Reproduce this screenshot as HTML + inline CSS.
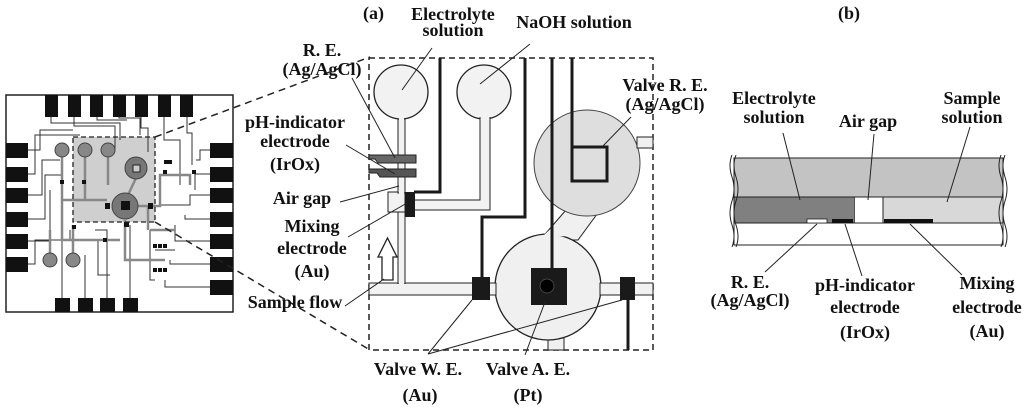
<!DOCTYPE html>
<html><head><style>body{margin:0;background:#fff}svg{display:block}text{font-family:"Liberation Serif",serif;font-weight:bold;font-size:18px;fill:#111}</style></head><body>
<svg width="1024" height="409" viewBox="0 0 1024 409" xmlns="http://www.w3.org/2000/svg">
<!-- Chip -->
<rect x="6" y="95" width="227" height="217" fill="#fff" stroke="#222" stroke-width="1.5"/>
<g fill="#111">
<rect x="45" y="95" width="13" height="22"/><rect x="68" y="95" width="13" height="22"/><rect x="90" y="95" width="13" height="22"/><rect x="113" y="95" width="13" height="22"/><rect x="135" y="95" width="13" height="22"/><rect x="158" y="95" width="13" height="22"/><rect x="180" y="95" width="13" height="22"/>
<rect x="6" y="143" width="22" height="15"/><rect x="6" y="167" width="22" height="15"/><rect x="6" y="188" width="22" height="15"/><rect x="6" y="212" width="22" height="15"/><rect x="6" y="234" width="22" height="15"/><rect x="6" y="257" width="22" height="15"/>
<rect x="210" y="143" width="23" height="15"/><rect x="210" y="167" width="23" height="15"/><rect x="210" y="188" width="23" height="15"/><rect x="210" y="212" width="23" height="15"/><rect x="210" y="234" width="23" height="15"/><rect x="210" y="257" width="23" height="15"/><rect x="210" y="280" width="23" height="15"/>
<rect x="55" y="298" width="15" height="14"/><rect x="78" y="298" width="15" height="14"/><rect x="100" y="298" width="15" height="14"/><rect x="123" y="298" width="15" height="14"/>
</g>
<rect x="73" y="137" width="82" height="85" fill="#cfcfcf"/>
<g fill="none" stroke="#333" stroke-width="1">
<path d="M51 117V123H120V140M74 117V126H115V150M97 117V120H127M119 117V118H140V135M141 117V128H148V152M164 117V140H180V185M187 117V133H192V165M28 150H40V130H73M28 174H35V135H80M28 195H42V160H60M28 219H45V175H62M28 241H50V190M28 264H35V240H70V230M210 150H200V160H196M210 174H195V190M210 195H190V205H160M210 219H185V215M210 241H175V225M210 264H170V260M210 287H165V280M62 298V240M85 298V255M107 298V230H95M130 298V225M150 230V280H155M155 250H175M98 240V275H110"/>
</g>
<g fill="none" stroke="#888" stroke-width="2.5">
<path d="M62 157V200H107M85 157V200M108 157V185M62 200V240H120M50 253V230M73 253V225M125 206H148V230M148 206H160V175H190V185M136 178L128 195M125 220V260H165M150 230H175"/>
</g>
<circle cx="62" cy="150" r="7" fill="#888" stroke="#444"/><circle cx="85" cy="150" r="7" fill="#888" stroke="#444"/><circle cx="108" cy="150" r="7" fill="#888" stroke="#444"/>
<circle cx="50" cy="260" r="7" fill="#888" stroke="#444"/><circle cx="73" cy="260" r="7" fill="#888" stroke="#444"/>
<circle cx="136" cy="168" r="11" fill="#777" stroke="#444"/><circle cx="125" cy="206" r="13" fill="#777" stroke="#444"/>
<rect x="133" y="165" width="7" height="7" fill="#ccc" stroke="#222"/>
<rect x="121" y="201" width="9" height="9" fill="#111"/>
<g fill="#111"><rect x="105" y="203" width="5" height="6"/><rect x="148" y="203" width="5" height="6"/><rect x="124" y="222" width="5" height="5"/><rect x="164" y="160" width="8" height="4"/><rect x="163" y="170" width="4" height="4"/><rect x="192" y="170" width="4" height="4"/><rect x="153" y="244" width="4" height="4"/><rect x="158" y="244" width="4" height="4"/><rect x="163" y="244" width="4" height="4"/><rect x="153" y="268" width="4" height="4"/><rect x="158" y="268" width="4" height="4"/><rect x="163" y="268" width="4" height="4"/><rect x="103" y="238" width="4" height="4"/><rect x="60" y="180" width="4" height="4"/><rect x="82" y="180" width="4" height="4"/><rect x="72" y="225" width="4" height="4"/></g>
<rect x="73" y="137" width="82" height="85" fill="none" stroke="#222" stroke-width="1.3" stroke-dasharray="5,3"/>
<line x1="155" y1="137" x2="370" y2="57" stroke="#222" stroke-width="1.5" stroke-dasharray="7,5"/>
<line x1="155" y1="222" x2="370" y2="350" stroke="#222" stroke-width="1.5" stroke-dasharray="7,5"/>

<!-- Panel a -->
<rect x="369" y="58" width="284" height="292" fill="none" stroke="#222" stroke-width="1.5" stroke-dasharray="6,4"/>
<path d="M540 240 L566 210 L600 210 L578 240 Z" fill="#f0f0f0" stroke="#222"/>
<circle cx="587" cy="163" r="53" fill="#dedede" stroke="#444" stroke-width="1"/>
<rect x="637" y="137" width="16" height="11" fill="#f0f0f0" stroke="#222"/>
<rect x="548" y="332" width="16" height="18" fill="#f0f0f0" stroke="#222"/>
<circle cx="548" cy="287" r="53" fill="#f0f0f0" stroke="#222" stroke-width="1.3"/>
<path d="M544 235 L560 220 L588 222 L576 237 Z" fill="#f0f0f0"/>
<rect x="369" y="283" width="127" height="12" fill="#f2f2f2" stroke="#222"/>
<rect x="600" y="283" width="53" height="12" fill="#f2f2f2" stroke="#222"/>
<rect x="398" y="210" width="7" height="74" fill="#f2f2f2" stroke="#222"/>
<rect x="370" y="284" width="125" height="10" fill="#f2f2f2"/>
<rect x="399" y="209" width="5" height="80" fill="#f2f2f2"/>
<rect x="388" y="192" width="17" height="20" fill="#f2f2f2" stroke="#222"/>
<rect x="398" y="117" width="7" height="76" fill="#f2f2f2" stroke="#222"/>
<circle cx="401" cy="92" r="27" fill="#f2f2f2" stroke="#222" stroke-width="1.3"/>
<rect x="399" y="115" width="5" height="80" fill="#f2f2f2"/>
<circle cx="484" cy="92" r="27" fill="#f2f2f2" stroke="#222" stroke-width="1.3"/>
<path d="M480 117V200H412V210H490V117" fill="#f2f2f2" stroke="#222"/>
<rect x="481" y="115" width="8" height="86" fill="#f2f2f2"/>
<path d="M369 155H416V163H378L375 159H369Z" fill="#666" stroke="#222"/>
<path d="M369 169H416V177H380L377 173H369Z" fill="#555" stroke="#222"/>
<g fill="none" stroke="#1a1a1a" stroke-width="3">
<path d="M440 58V192H414"/><path d="M525 58V217H482V277"/><path d="M552 58V270"/><path d="M572 58V181H607V147H572"/><path d="M628 300V350"/>
</g>
<rect x="405" y="192" width="10" height="25" fill="#1a1a1a"/>
<rect x="472" y="277" width="18" height="23" fill="#1a1a1a"/>
<rect x="620" y="277" width="15" height="23" fill="#1a1a1a"/>
<rect x="531" y="268" width="36" height="37" fill="#1a1a1a"/>
<circle cx="547" cy="286" r="7" fill="#000" stroke="#444"/>
<path d="M382 280V257H378L387.5 238L397 257H393V280Z" fill="#fff" stroke="#222" stroke-width="1.3"/>
<g stroke="#222" stroke-width="1" fill="none">
<path d="M402 90L432 48"/><path d="M480 84L530 44"/><path d="M352 78L395 158"/><path d="M346 145L395 174"/><path d="M340 202L399 186"/><path d="M348 237L407 203"/><path d="M345 306L384 279"/><path d="M602 147L631 117"/><path d="M428 354L472 300"/><path d="M428 354L622 300"/><path d="M525 355L545 302"/>
</g>
<text x="363" y="19" font-size="16">(a)</text>
<text x="453" y="20" text-anchor="middle">Electrolyte</text><text x="453" y="36" text-anchor="middle">solution</text>
<text x="574" y="28" text-anchor="middle">NaOH solution</text>
<text x="322" y="56" text-anchor="middle">R. E.</text><text x="322" y="75" text-anchor="middle">(Ag/AgCl)</text>
<text x="295" y="128" text-anchor="middle">pH-indicator</text><text x="295" y="147" text-anchor="middle">electrode</text><text x="295" y="170" text-anchor="middle">(IrOx)</text>
<text x="302" y="204" text-anchor="middle">Air gap</text>
<text x="312" y="232" text-anchor="middle">Mixing</text><text x="312" y="254" text-anchor="middle">electrode</text><text x="312" y="277" text-anchor="middle">(Au)</text>
<text x="295" y="308" text-anchor="middle">Sample flow</text>
<text x="665" y="91" text-anchor="middle">Valve R. E.</text><text x="665" y="110" text-anchor="middle">(Ag/AgCl)</text>
<text x="418" y="375" text-anchor="middle">Valve W. E.</text><text x="420" y="401" text-anchor="middle">(Au)</text>
<text x="528" y="375" text-anchor="middle">Valve A. E.</text><text x="528" y="401" text-anchor="middle">(Pt)</text>

<!-- Panel b -->
<rect x="734" y="158" width="269" height="39" fill="#c3c3c3" stroke="#222"/>
<rect x="734" y="197" width="121" height="26" fill="#808080" stroke="#222"/>
<rect x="855" y="197" width="28" height="26" fill="#fff"/>
<rect x="883" y="197" width="120" height="26" fill="#d8d8d8" stroke="#222"/>
<rect x="734" y="223" width="269" height="22" fill="#fff" stroke="#222"/>
<line x1="734" y1="197" x2="1003" y2="197" stroke="#222"/>
<rect x="807" y="219" width="20" height="4" fill="#fff" stroke="#222" stroke-width="0.8"/>
<rect x="832" y="219" width="21" height="4" fill="#111"/>
<rect x="884" y="219" width="49" height="4" fill="#111"/>
<g stroke="#222" stroke-width="1" fill="none">
<path d="M732 155 q-4 10 0 22 q4 12 0 24 q-4 12 0 24 q4 12 0 22"/><path d="M736 155 q-4 10 0 22 q4 12 0 24 q-4 12 0 24 q4 12 0 22"/>
<path d="M1001 155 q-4 10 0 22 q4 12 0 24 q-4 12 0 24 q4 12 0 22"/><path d="M1005 155 q-4 10 0 22 q4 12 0 24 q-4 12 0 24 q4 12 0 22"/>
<path d="M800 200L783 133"/><path d="M868 200L874 134"/><path d="M947 202L970 127"/>
<path d="M817 224L765 272"/><path d="M845 224L862 276"/><path d="M910 224L962 275"/>
</g>
<text x="838" y="19" font-size="16">(b)</text>
<text x="774" y="104" text-anchor="middle">Electrolyte</text><text x="774" y="123" text-anchor="middle">solution</text>
<text x="868" y="127" text-anchor="middle">Air gap</text>
<text x="972" y="104" text-anchor="middle">Sample</text><text x="972" y="123" text-anchor="middle">solution</text>
<text x="750" y="288" text-anchor="middle">R. E.</text><text x="750" y="306" text-anchor="middle">(Ag/AgCl)</text>
<text x="865" y="291" text-anchor="middle">pH-indicator</text><text x="865" y="313" text-anchor="middle">electrode</text><text x="865" y="338" text-anchor="middle">(IrOx)</text>
<text x="987" y="289" text-anchor="middle">Mixing</text><text x="987" y="313" text-anchor="middle">electrode</text><text x="987" y="337" text-anchor="middle">(Au)</text>
</svg>
</body></html>
